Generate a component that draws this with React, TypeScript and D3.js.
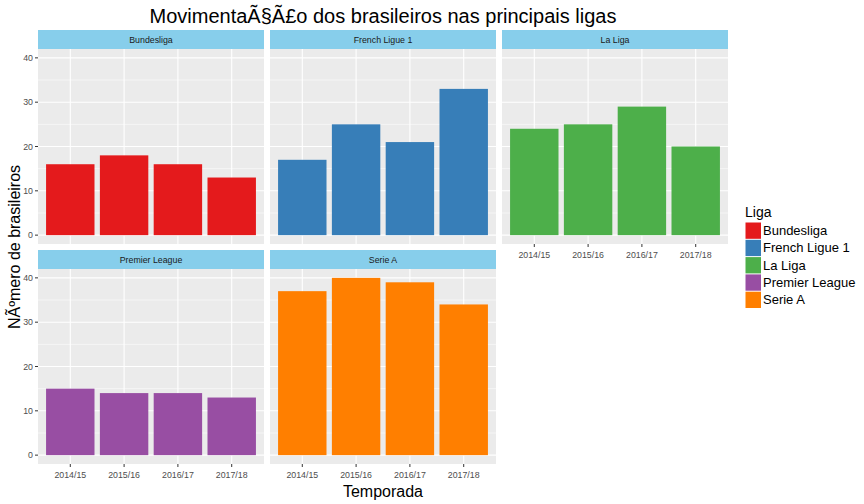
import { useEffect, useRef } from "react";
import * as d3 from "d3";

// dados
const seasons = ["2014/15", "2015/16", "2016/17", "2017/18"];
const leagues = ["Bundesliga", "French Ligue 1", "La Liga", "Premier League", "Serie A"];
const bundesliga = [16, 18, 16, 13];
const ligue1 = [17, 25, 21, 33];
const laLiga = [24, 25, 29, 20];
const premier = [15, 14, 14, 13];
const serieA = [37, 40, 39, 34];
const colors = ["#E41A1C", "#377EB8", "#4DAF4A", "#984EA3", "#FF7F00"];
const yTicks = [0, 10, 20, 30, 40];
const yMinor = [5, 15, 25, 35];

const seriesValues = [bundesliga, ligue1, laLiga, premier, serieA];

const App = () => {
  const ref = useRef<SVGSVGElement>(null);

  useEffect(() => {
    const width = 864;
    const height = 504;
    const font = "Arial, 'Liberation Sans', sans-serif";

    const svg = d3.select(ref.current).attr("width", width).attr("height", height);
    svg.selectAll("*").remove();
    svg.style("font-family", font);
    svg.append("rect").attr("width", width).attr("height", height).attr("fill", "white");

    // layout dos painéis
    const left = 38;
    const panelW = 226;
    const gap = 6;
    const rows = [
      { stripTop: 30, top: 49, bottom: 244 },
      { stripTop: 250, top: 269, bottom: 464 },
    ];

    // escala discreta com expansão de 0.6 unidades (ggplot)
    const x = d3.scalePoint<string>().domain(seasons).padding(0.6);
    const y = d3.scaleLinear().domain([-2, 42]);

    leagues.forEach((league, i) => {
      const col = i % 3;
      const r = rows[Math.floor(i / 3)];
      const x0 = left + col * (panelW + gap);
      x.range([x0, x0 + panelW]);
      y.range([r.bottom, r.top]);
      const g = svg.append("g");

      // fundo
      g.append("rect")
        .attr("x", x0).attr("y", r.top)
        .attr("width", panelW).attr("height", r.bottom - r.top)
        .attr("fill", "#EBEBEB");

      // grid menor
      g.selectAll(".minor").data(yMinor).join("line")
        .attr("x1", x0).attr("x2", x0 + panelW)
        .attr("y1", (d) => y(d)).attr("y2", (d) => y(d))
        .attr("stroke", "white").attr("stroke-width", 0.55);

      // grid maior
      g.selectAll(".major").data(yTicks).join("line")
        .attr("x1", x0).attr("x2", x0 + panelW)
        .attr("y1", (d) => y(d)).attr("y2", (d) => y(d))
        .attr("stroke", "white").attr("stroke-width", 1.1);

      g.selectAll(".vgrid").data(seasons).join("line")
        .attr("x1", (d) => x(d)!).attr("x2", (d) => x(d)!)
        .attr("y1", r.top).attr("y2", r.bottom)
        .attr("stroke", "white").attr("stroke-width", 1.1);

      // barras (largura 0.9)
      const vals = seriesValues[i];
      const barW = x.step() * 0.9;
      g.selectAll(".bar").data(seasons).join("rect")
        .attr("x", (d) => x(d)! - barW / 2)
        .attr("width", barW)
        .attr("y", (_, j) => y(vals[j]))
        .attr("height", (_, j) => y(0) - y(vals[j]))
        .attr("fill", colors[i]);

      // strip
      g.append("rect")
        .attr("x", x0).attr("y", r.stripTop)
        .attr("width", panelW).attr("height", r.top - r.stripTop)
        .attr("fill", "#87CEEB");
      g.append("text")
        .attr("x", x0 + panelW / 2).attr("y", (r.stripTop + r.top) / 2 + 3)
        .attr("text-anchor", "middle")
        .attr("font-size", "8.8px")
        .attr("fill", "#1A1A1A")
        .text(league);

      // eixo y
      if (col === 0) {
        g.selectAll(".ytick").data(yTicks).join("line")
          .attr("x1", x0 - 3).attr("x2", x0)
          .attr("y1", (d) => y(d)).attr("y2", (d) => y(d))
          .attr("stroke", "#333333").attr("stroke-width", 1);
        g.selectAll(".ylab").data(yTicks).join("text")
          .attr("x", x0 - 5).attr("y", (d) => y(d) + 3.2)
          .attr("text-anchor", "end")
          .attr("font-size", "8.8px")
          .attr("fill", "#4D4D4D")
          .text((d) => d);
      }

      // eixo x (última linha de cada coluna)
      if (i >= 2) {
        g.selectAll(".xtick").data(seasons).join("line")
          .attr("x1", (d) => x(d)!).attr("x2", (d) => x(d)!)
          .attr("y1", r.bottom).attr("y2", r.bottom + 3)
          .attr("stroke", "#333333").attr("stroke-width", 1);
        g.selectAll(".xlab").data(seasons).join("text")
          .attr("x", (d) => x(d)!).attr("y", r.bottom + 14)
          .attr("text-anchor", "middle")
          .attr("font-size", "8.8px")
          .attr("fill", "#4D4D4D")
          .text((d) => d);
      }
    });

    const plotCenter = left + (3 * panelW + 2 * gap) / 2;

    // título
    svg.append("text")
      .attr("x", plotCenter).attr("y", 23)
      .attr("text-anchor", "middle")
      .attr("font-size", "20px")
      .attr("fill", "black")
      .text("MovimentaÃ§Ã£o dos brasileiros nas principais ligas");

    // títulos dos eixos
    svg.append("text")
      .attr("x", plotCenter).attr("y", 497)
      .attr("text-anchor", "middle")
      .attr("font-size", "16px")
      .text("Temporada");

    svg.append("text")
      .attr("transform", `translate(20, ${(rows[0].stripTop + rows[1].bottom) / 2}) rotate(-90)`)
      .attr("text-anchor", "middle")
      .attr("font-size", "16px")
      .text("NÃºmero de brasileiros");

    // legenda
    const lx = 745;
    const ly = 222;
    const keyH = 17.3;
    svg.append("text")
      .attr("x", lx).attr("y", 217)
      .attr("font-size", "14px")
      .text("Liga");
    const lg = svg.append("g").selectAll("g").data(leagues).join("g")
      .attr("transform", (_, i) => `translate(${lx}, ${ly + i * keyH})`);
    lg.append("rect")
      .attr("x", 0.5).attr("y", 0.5)
      .attr("width", 15.5).attr("height", keyH - 1)
      .attr("fill", (_, i) => colors[i]);
    lg.append("text")
      .attr("x", 18).attr("y", keyH / 2 + 4.5)
      .attr("font-size", "13px")
      .text((d) => d);
  }, []);

  return <svg ref={ref} style={{ display: "block", position: "absolute", left: 0, top: 0 }} />;
};

export default App;
